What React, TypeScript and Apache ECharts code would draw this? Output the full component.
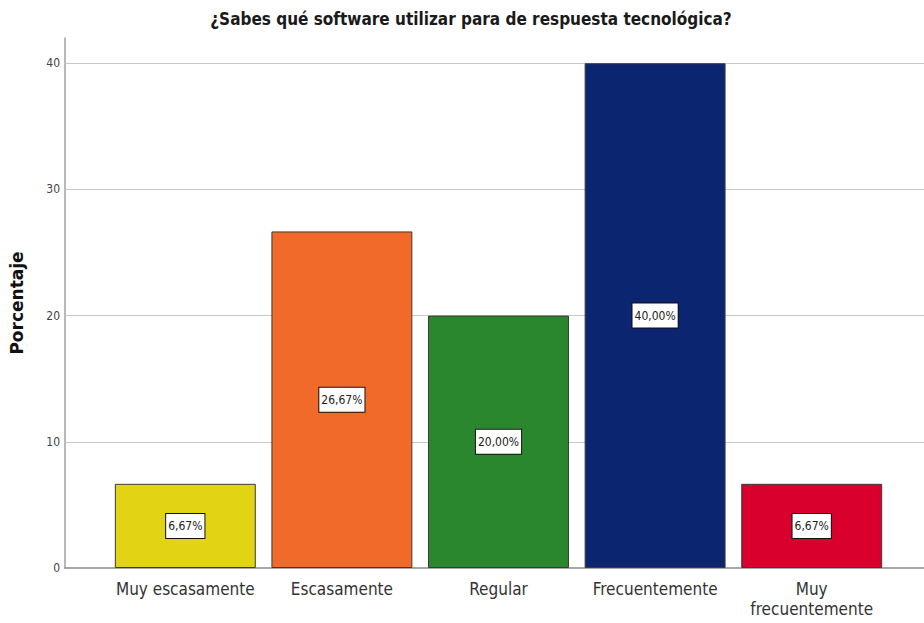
import React, { useEffect, useRef } from "react";
import * as echarts from "echarts";

const titleText = "¿Sabes qué software utilizar para de respuesta tecnológica?";
const yAxisTitle = "Porcentaje";
const categories = ["Muy escasamente", "Escasamente", "Regular", "Frecuentemente", "Muy\nfrecuentemente"];
const values = [6.67, 26.67, 20.0, 40.0, 6.67];
const barColors = ["#E2D414", "#F26A2A", "#2B872E", "#0B2570", "#DA002E"];
const gridLineValues = [10, 20, 30, 40];
const yMin = 0;
const yMax = 42;
const yInterval = 10;

const NARROW = "'Liberation Sans Narrow', 'DejaVu Sans Condensed', 'Arial Narrow', sans-serif";

export default function App() {
  const ref = useRef<HTMLDivElement>(null);
  useEffect(() => {
    document.body.style.margin = "0";
    if (!ref.current) return;
    const chart = echarts.init(ref.current, undefined, { renderer: "svg" });
    const fmt = (v: number) => v.toFixed(2).replace(".", ",") + "%";
    chart.setOption({
      animation: false,
      backgroundColor: "#ffffff",
      title: {
        text: titleText,
        left: 466,
        top: 5,
        textAlign: "center",
        textStyle: { fontFamily: NARROW, fontSize: 17, fontWeight: "bold", color: "#1a1a1a" },
      },
      grid: [
        { left: 64, right: 0, top: 38, bottom: 55 },
        { left: 107, right: 34, top: 38, bottom: 55 },
      ],
      xAxis: [
        {
          gridIndex: 0,
          type: "value",
          min: 0,
          max: 1,
          axisLine: { show: true, lineStyle: { color: "#8a8a8a", width: 1.5 } },
          axisTick: { show: false },
          axisLabel: { show: false },
          splitLine: { show: false },
        },
        {
          gridIndex: 1,
          type: "category",
          data: categories,
          axisLine: { show: false },
          axisTick: { show: false },
          axisLabel: {
            margin: 11,
            interval: 0,
            fontFamily: NARROW,
            fontSize: 17,
            color: "#333333",
            lineHeight: 20,
          },
        },
      ],
      yAxis: [
        {
          gridIndex: 0,
          type: "value",
          min: yMin,
          max: yMax,
          interval: yInterval,
          name: yAxisTitle,
          nameLocation: "middle",
          nameGap: 40,
          nameRotate: 90,
          nameTextStyle: { fontFamily: "'DejaVu Sans', sans-serif", fontSize: 17, fontWeight: "bold", color: "#111" },
          axisLine: { show: true, lineStyle: { color: "#a0a0a0", width: 1.5 } },
          axisTick: { show: false },
          axisLabel: {
            margin: 5,
            fontFamily: NARROW,
            fontSize: 12,
            color: "#444444",
            formatter: (v: number) => (v % yInterval === 0 ? String(v) : ""),
          },
          splitLine: { show: false },
        },
        {
          gridIndex: 1,
          type: "value",
          min: yMin,
          max: yMax,
          interval: yInterval,
          show: false,
          splitLine: { show: false },
        },
      ],
      series: [
        {
          type: "line",
          xAxisIndex: 0,
          yAxisIndex: 0,
          data: [],
          silent: true,
          z: 1,
          markLine: {
            silent: true,
            symbol: "none",
            label: { show: false },
            lineStyle: { color: "#c8c8c8", type: "solid", width: 1.2 },
            data: gridLineValues.map((v) => ({ yAxis: v })),
          },
        },
        {
          type: "bar",
          xAxisIndex: 1,
          yAxisIndex: 1,
          barWidth: "90%",
          z: 5,
          data: values.map((v, i) => ({
            value: v,
            itemStyle: { color: barColors[i], borderColor: "#3a3a3a", borderWidth: 1 },
          })),
          label: {
            show: true,
            position: "inside",
            formatter: (p: any) => fmt(p.value),
            fontFamily: NARROW,
            fontSize: 12,
            color: "#222222",
            backgroundColor: "#ffffff",
            borderColor: "#111111",
            borderWidth: 1,
            padding: [6, 2],
          },
        },
      ],
    });
    return () => chart.dispose();
  }, []);
  return <div ref={ref} style={{ width: 924, height: 623 }} />;
}
